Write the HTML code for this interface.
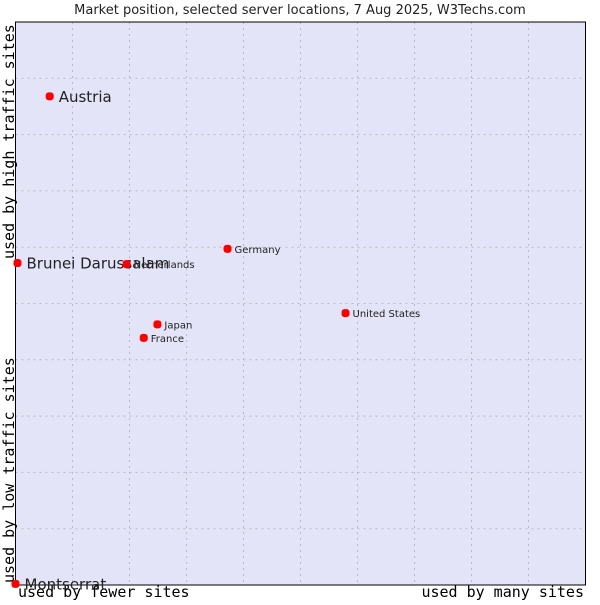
<!DOCTYPE html>
<html><head><meta charset="utf-8"><style>
body{margin:0;background:#fff;width:600px;height:600px;overflow:hidden}
svg text{font-family:"DejaVu Sans","Liberation Sans",sans-serif}
.mono{font-family:"DejaVu Sans Mono","Liberation Mono",monospace}
</style></head><body>
<svg id="chart" width="600" height="600">
<text x="300" y="14" text-anchor="middle" font-size="13" fill="#222">Market position, selected server locations, 7 Aug 2025, W3Techs.com</text>
<rect x="15.5" y="22" width="570" height="563" fill="#e3e4f8"/>
<g id="grid"></g>
<rect x="15.5" y="22" width="570" height="563" fill="none" stroke="#000" stroke-width="1"/>
<text class="mono" x="18" y="597" font-size="15" fill="#000">used by fewer sites</text>
<text class="mono" x="584" y="597" font-size="15" text-anchor="end" fill="#000">used by many sites</text>
<text class="mono" transform="translate(14,583) rotate(-90)" font-size="15" fill="#000">used by low traffic sites</text>
<text class="mono" transform="translate(14,259) rotate(-90)" font-size="15" fill="#000">used by high traffic sites</text>
<g id="points"></g>
</svg>
<script>
const names=["Austria","Brunei Darussalam","Netherlands","Germany","United States","Japan","France","Montserrat"];
const xValues=[6.0,0.35,19.5,37.2,57.9,24.9,22.5,0.0];
const yValues=[86.8,57.2,57.0,59.7,48.3,46.3,43.9,0.2];
const bigLabel=[true,true,false,false,false,false,false,true];
const X0=15.5,X1=585.5,Y0=585,Y1=22;
function sx(v){return X0+(X1-X0)*v/100;}
function sy(v){return Y0-(Y0-Y1)*v/100;}
const NS="http://www.w3.org/2000/svg";
const grid=document.getElementById('grid');
for(let i=1;i<10;i++){
  const v=document.createElementNS(NS,'line');
  v.setAttribute('x1',sx(i*10));v.setAttribute('x2',sx(i*10));v.setAttribute('y1',Y1);v.setAttribute('y2',Y0);
  v.setAttribute('stroke','#bbbbbb');v.setAttribute('stroke-dasharray','2,4');
  
  
  grid.appendChild(v);
  const h=document.createElementNS(NS,'line');
  h.setAttribute('y1',sy(i*10));h.setAttribute('y2',sy(i*10));h.setAttribute('x1',X0);h.setAttribute('x2',X1);
  h.setAttribute('stroke','#bbbbbb');h.setAttribute('stroke-dasharray','2,4');
  
  
  grid.appendChild(h);
}
const pts=document.getElementById('points');
names.forEach((n,i)=>{
  const x=sx(xValues[i]),y=sy(yValues[i]);
  const c=document.createElementNS(NS,'rect');
  c.setAttribute('x',x-4);c.setAttribute('y',y-4);c.setAttribute('width',8);c.setAttribute('height',8);
  c.setAttribute('rx',3);c.setAttribute('fill','#f00');
  
  
  pts.appendChild(c);
  const t=document.createElementNS(NS,'text');
  t.setAttribute('x',x+(bigLabel[i]?9:7));t.setAttribute('y',y+(bigLabel[i]?5.5:4));
  t.setAttribute('font-size',bigLabel[i]?15:10);t.setAttribute('fill','#222');
  t.textContent=n;
  
  
  pts.appendChild(t);
});
</script>
</body></html>
